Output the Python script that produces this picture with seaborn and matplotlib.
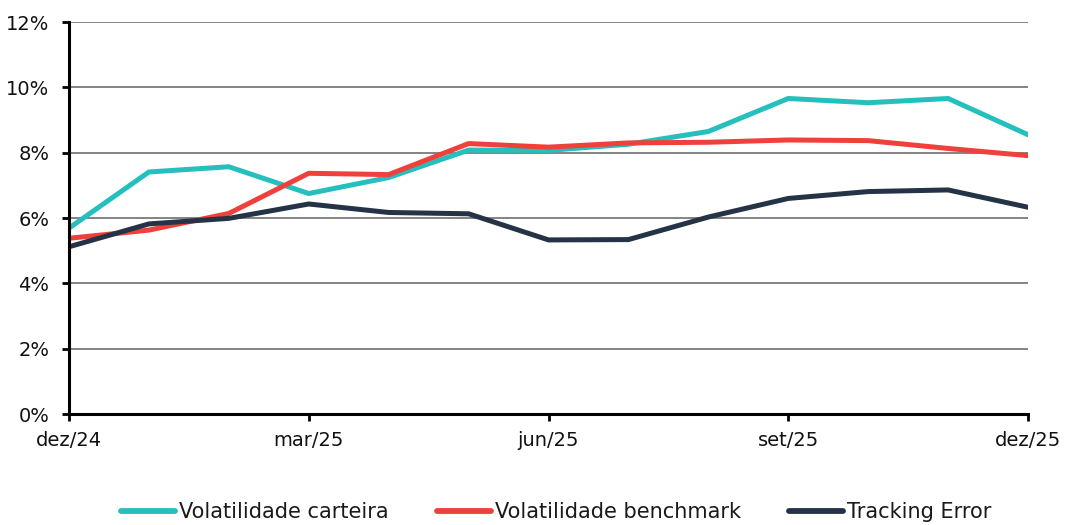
import numpy as np
import pandas as pd
import seaborn as sns
from matplotlib import pyplot as plt
from matplotlib.ticker import PercentFormatter

# monthly values, dez/24 .. dez/25 (in %)
months = ["dez/24", "jan/25", "fev/25", "mar/25", "abr/25", "mai/25", "jun/25",
          "jul/25", "ago/25", "set/25", "out/25", "nov/25", "dez/25"]
vol_carteira = [5.69, 7.41, 7.57, 6.75, 7.24, 8.08, 8.07, 8.26, 8.65, 9.66, 9.53, 9.66, 8.55]
vol_benchmark = [5.38, 5.63, 6.14, 7.37, 7.33, 8.28, 8.17, 8.30, 8.32, 8.39, 8.37, 8.13, 7.91]
tracking_error = [5.12, 5.82, 5.99, 6.43, 6.17, 6.13, 5.33, 5.34, 6.03, 6.60, 6.81, 6.86, 6.33]

series_names = ["Volatilidade carteira", "Volatilidade benchmark", "Tracking Error"]
colors = ["#25BFBE", "#F0403B", "#243345"]

df = pd.DataFrame({
    "idx": list(range(len(months))) * 3,
    "valor": vol_carteira + vol_benchmark + tracking_error,
    "serie": [series_names[0]] * len(months) + [series_names[1]] * len(months)
             + [series_names[2]] * len(months),
})

sns.set_style("white")
plt.rcParams['font.family'] = ['DejaVu Sans']

fig = plt.figure(figsize=(10.66, 5.25), dpi=100)
ax = fig.add_axes([0.0647, 0.2114, 0.8997, 0.7466])

sns.lineplot(data=df, x="idx", y="valor", hue="serie", hue_order=series_names,
             palette=colors, linewidth=3.6, ax=ax, legend=False)

# axes look
ax.set_xlim(0, 12)
ax.set_ylim(0, 12)
ax.set_yticks(np.arange(0, 13, 2))
ax.yaxis.set_major_formatter(PercentFormatter(decimals=0))
ax.set_xticks([0, 3, 6, 9, 12])
ax.set_xticklabels([months[i] for i in [0, 3, 6, 9, 12]])
ax.set_xlabel("")
ax.set_ylabel("")
ax.grid(axis="y", color="#7a7a7a", linewidth=1.3)
ax.set_axisbelow(True)
for s in ["top", "right"]:
    ax.spines[s].set_visible(False)
for s in ["left", "bottom"]:
    ax.spines[s].set_color("black")
    ax.spines[s].set_linewidth(2.2)
ax.tick_params(axis="both", direction="out", length=5, width=2, color="black",
               labelsize=14, labelcolor="#111111", bottom=True, left=True)
ax.tick_params(axis="y", pad=9)
ax.tick_params(axis="x", pad=7)

# legend at the bottom
handles = [plt.Line2D([], [], color=c, linewidth=4.2, solid_capstyle="round") for c in colors]
fig.legend(handles, series_names, loc="lower center", bbox_to_anchor=(0.522, -0.03),
           ncol=3, frameon=False, fontsize=15, handlelength=2.6, handletextpad=0.2,
           columnspacing=2.3, labelcolor="#1a1a1a")

fig.savefig("out.png", dpi=100)
